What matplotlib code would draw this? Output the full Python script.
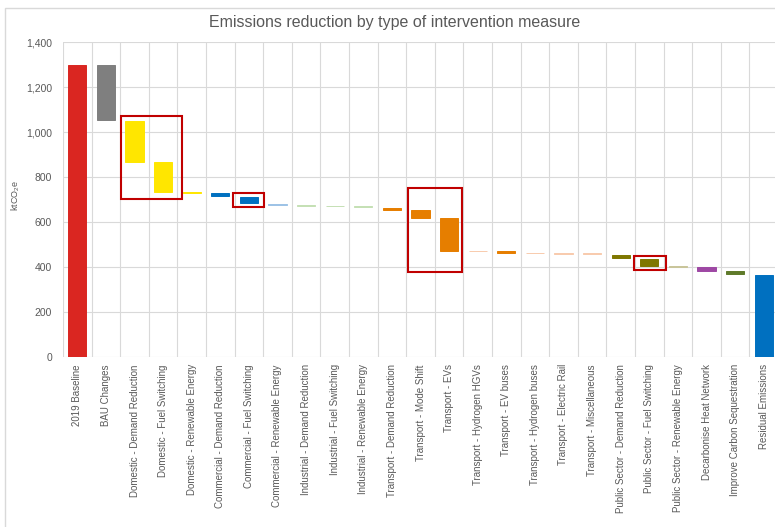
import matplotlib.pyplot as plt
from matplotlib.patches import Rectangle
import numpy as np

plt.rcParams['font.family'] = ['Liberation Sans', 'DejaVu Sans']
plt.rcParams['mathtext.fontset'] = 'custom'
plt.rcParams['mathtext.rm'] = 'Liberation Sans'

categories = ["2019 Baseline", "BAU Changes",
              "Domestic - Demand Reduction", "Domestic - Fuel Switching", "Domestic - Renewable Energy",
              "Commercial - Demand Reduction", "Commercial - Fuel Switching", "Commercial - Renewable Energy",
              "Industrial - Demand Reduction", "Industrial - Fuel Switching", "Industrial - Renewable Energy",
              "Transport - Demand Reduction", "Transport - Mode Shift", "Transport - EVs",
              "Transport - Hydrogen HGVs", "Transport - EV buses", "Transport - Hydrogen buses",
              "Transport - Electric Rail", "Transport - Miscellaneous",
              "Public Sector - Demand Reduction", "Public Sector - Fuel Switching", "Public Sector - Renewable Energy",
              "Decarbonise Heat Network", "Improve Carbon Sequestration", "Residual Emissions"]

# top and bottom of each floating bar (ktCO2e)
tops = [1300, 1300, 1049, 867, 733, 731, 712, 679, 677, 673, 670, 665, 652, 618,
        474, 470, 465, 464, 462, 455, 438, 404, 400, 382, 367]
bottoms = [0, 1054, 869, 736, 730, 716, 684, 676, 674, 670, 667, 655, 620, 472,
           471, 464, 461, 460, 459, 442, 404, 401, 385, 370, 0]

colors = ["#DA2621", "#7F7F7F",
          "#FFE600", "#FFE600", "#FFE600",
          "#0070C0", "#0070C0", "#9DC3E6",
          "#C5E0B4", "#C5E0B4", "#C5E0B4",
          "#E67E00", "#E67E00", "#E67E00",
          "#F8CBAD", "#E67E00", "#F8CBAD", "#F8CBAD", "#F8CBAD",
          "#7F7700", "#7F7700", "#C9C59A",
          "#9E48A4", "#5F7A2A", "#0070C0"]

# highlight boxes: (x0, x1, y0, y1) in data units
boxes = [(1.52, 3.67, 703, 1073), (5.43, 6.54, 667, 729),
         (11.55, 13.46, 378, 751), (19.47, 20.57, 388, 450)]

fig = plt.figure(figsize=(7.75, 5.27), dpi=100)
fig.patches.append(Rectangle((5 / 775, -0.1), 1.1, 1.1 - 8 / 527, transform=fig.transFigure,
                             fill=False, edgecolor="#D9D9D9", linewidth=1))
ax = fig.add_axes([63 / 775, 1 - 357.3 / 527, 715 / 775, (357.3 - 42) / 527])

x = np.arange(len(categories))
heights = np.array(tops) - np.array(bottoms)
ax.bar(x, heights, bottom=bottoms, width=0.63, color=colors, edgecolor=colors,
       linewidth=0.7, zorder=3)

for x0, x1, y0, y1 in boxes:
    ax.add_patch(Rectangle((x0, y0), x1 - x0, y1 - y0, fill=False,
                           edgecolor="#C00000", linewidth=1.5, zorder=4))

ax.set_xlim(-0.5, len(categories) - 0.5)
ax.set_ylim(0, 1400)
ax.set_yticks(range(0, 1401, 200))
ax.set_yticklabels([f"{v:,}" for v in range(0, 1401, 200)])
ax.set_xticks(x)
ax.set_xticklabels(categories, rotation=90, fontsize=7, color="#595959")
ax.set_xticks(np.arange(-0.5, len(categories), 1), minor=True)
ax.tick_params(axis='y', labelsize=7.5, labelcolor="#595959", length=0, pad=8)
ax.tick_params(axis='x', which='both', length=0, pad=5)
ax.grid(axis='y', color="#D9D9D9", linewidth=0.8, zorder=0)
ax.grid(axis='x', which='minor', color="#D9D9D9", linewidth=0.8, zorder=0)
for s in ax.spines.values():
    s.set_visible(False)

# y label placed by hand so it sits where the original one does
fig.text(16 / 775, 1 - 196 / 527, "ktCO$_2$e", rotation=90, ha='center', va='center',
         fontsize=6.5, color="#595959")

fig.text(395 / 775, 1 - 23 / 527, "Emissions reduction by type of intervention measure",
         ha='center', va='center', fontsize=11.5, color="#595959")

fig.savefig("out.png", dpi=100)
